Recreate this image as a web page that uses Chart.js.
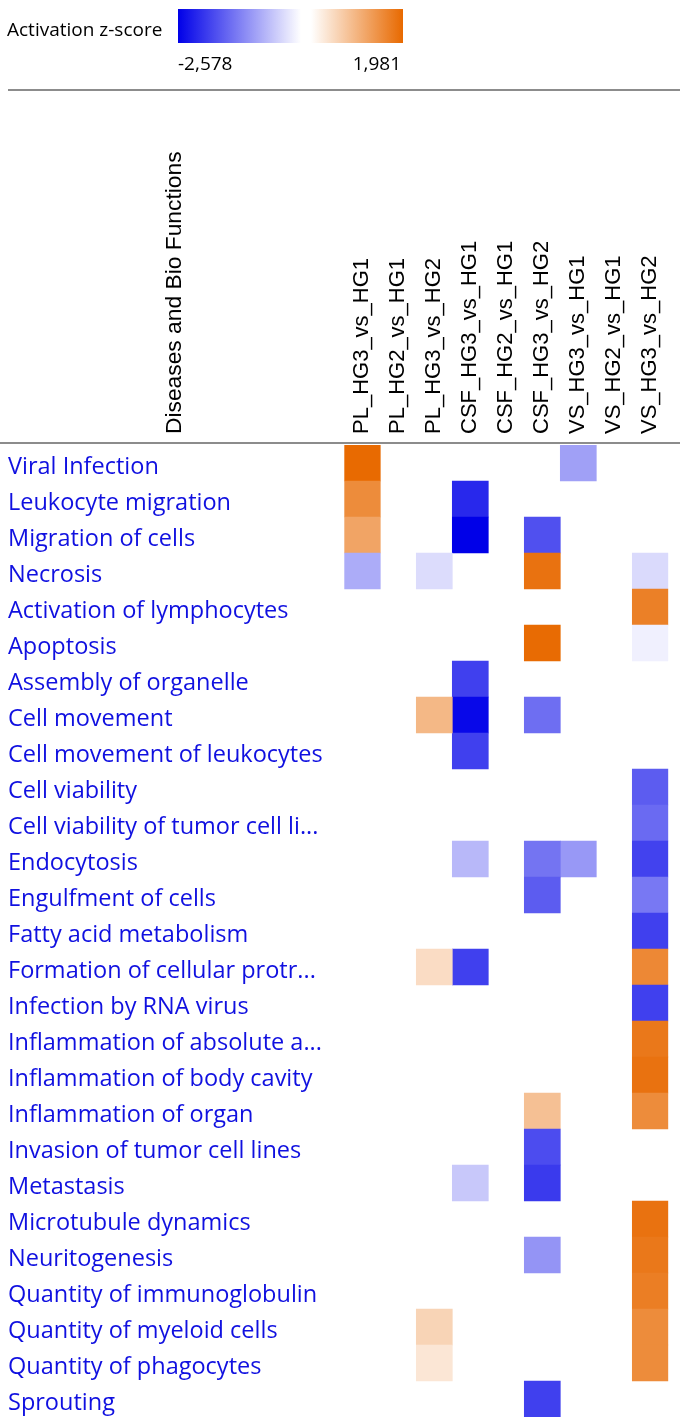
<!DOCTYPE html>
<html><head><meta charset="utf-8">
<script src="https://cdn.jsdelivr.net/npm/chart.js@4.4.1/dist/chart.umd.min.js"></script>
<style>
html,body{margin:0;padding:0;background:#fff;width:685px;height:1426px;overflow:hidden;}
#wrap{position:relative;width:685px;height:1426px;}
#c{position:absolute;left:0;top:0;}
.abs{position:absolute;white-space:nowrap;}
</style></head><body>
<div id="wrap">
<canvas id="c" width="685" height="1426"></canvas>
<div class="abs" style="left:7px;top:16px;font:19px 'Open Sans';color:#000;line-height:26px;">Activation z-score</div>
<div class="abs" style="left:178px;top:9px;width:123px;height:34px;background:linear-gradient(to right,rgb(0,0,232),#ffffff);"></div>
<div class="abs" style="left:311px;top:9px;width:92px;height:34px;background:linear-gradient(to right,#ffffff,rgb(232,105,0));"></div>
<div class="abs" id="minLbl" style="left:178px;top:50px;font:19px 'Open Sans';line-height:26px;"></div>
<div class="abs" id="maxLbl" style="right:284px;top:50px;font:19px 'Open Sans';line-height:26px;text-align:right;"></div>
<div class="abs" style="left:8px;top:89px;width:672px;height:2px;background:#8c8c8c;"></div>
<div class="abs" style="left:0px;top:442px;width:680px;height:2px;background:#8c8c8c;"></div>
<div class="abs" style="left:160px;top:434px;transform-origin:0 0;transform:rotate(-90deg);font:22.8px 'Liberation Sans',Arial;color:#000;line-height:26px;">Diseases and Bio Functions</div>
</div>
<script>
const zMin = -2.578;
const zMax = 1.981;
const zMinLabel = "-2,578";
const zMaxLabel = "1,981";

const columns = ["PL_HG3_vs_HG1","PL_HG2_vs_HG1","PL_HG3_vs_HG2","CSF_HG3_vs_HG1","CSF_HG2_vs_HG1","CSF_HG3_vs_HG2","VS_HG3_vs_HG1","VS_HG2_vs_HG1","VS_HG3_vs_HG2"];

const rows = ["Viral Infection","Leukocyte migration","Migration of cells","Necrosis","Activation of lymphocytes","Apoptosis","Assembly of organelle","Cell movement","Cell movement of leukocytes","Cell viability","Cell viability of tumor cell li...","Endocytosis","Engulfment of cells","Fatty acid metabolism","Formation of cellular protr...","Infection by RNA virus","Inflammation of absolute a...","Inflammation of body cavity","Inflammation of organ","Invasion of tumor cell lines","Metastasis","Microtubule dynamics","Neuritogenesis","Quantity of immunoglobulin","Quantity of myeloid cells","Quantity of phagocytes","Sprouting"];

const _ = null;
// one array per comparison (column), one value per row
const PL_HG3_vs_HG1  = [1.97,1.52,1.20,-0.84,_,_,_,_,_,_,_,_,_,_,_,_,_,_,_,_,_,_,_,_,_,_,_];
const PL_HG2_vs_HG1  = [_,_,_,_,_,_,_,_,_,_,_,_,_,_,_,_,_,_,_,_,_,_,_,_,_,_,_];
const PL_HG3_vs_HG2  = [_,_,_,-0.35,_,_,_,0.94,_,_,_,_,_,_,0.46,_,_,_,_,_,_,_,_,_,0.57,0.33,_];
const CSF_HG3_vs_HG1 = [_,-2.17,-2.578,_,_,_,-1.93,-2.50,-1.93,_,_,-0.72,_,_,-1.93,_,_,_,_,_,-0.56,_,_,_,_,_,_];
const CSF_HG2_vs_HG1 = [_,_,_,_,_,_,_,_,_,_,_,_,_,_,_,_,_,_,_,_,_,_,_,_,_,_,_];
const CSF_HG3_vs_HG2 = [_,_,-1.77,1.86,_,1.96,_,-1.47,_,_,_,-1.41,-1.65,_,_,_,_,_,0.83,-1.81,-1.99,_,-1.08,_,_,_,-1.93];
const VS_HG3_vs_HG1  = [-0.96,_,_,_,_,_,_,_,_,_,_,-1.04,_,_,_,_,_,_,_,_,_,_,_,_,_,_,_];
const VS_HG2_vs_HG1  = [_,_,_,_,_,_,_,_,_,_,_,_,_,_,_,_,_,_,_,_,_,_,_,_,_,_,_];
const VS_HG3_vs_HG2  = [_,_,_,-0.37,1.68,-0.15,_,_,_,-1.65,-1.51,-1.91,-1.36,-1.93,1.57,-1.93,1.78,1.86,1.52,_,_,1.86,1.78,1.70,1.52,1.52,_];

const series = [PL_HG3_vs_HG1,PL_HG2_vs_HG1,PL_HG3_vs_HG2,CSF_HG3_vs_HG1,CSF_HG2_vs_HG1,CSF_HG3_vs_HG2,VS_HG3_vs_HG1,VS_HG2_vs_HG1,VS_HG3_vs_HG2];

document.getElementById('minLbl').textContent = zMinLabel;
document.getElementById('maxLbl').textContent = zMaxLabel;

const BLUE = [0,0,232], ORANGE = [232,105,0];
function zColor(z){
  if (z == null) return 'rgba(0,0,0,0)';
  let end, t;
  if (z < 0) { end = BLUE; t = Math.min(1, z / zMin); }
  else { end = ORANGE; t = Math.min(1, z / zMax); }
  const c = end.map(v => Math.round(255 + (v - 255) * t));
  return `rgb(${c[0]},${c[1]},${c[2]})`;
}

const datasets = series.map((vals, ci) => ({
  label: columns[ci],
  data: vals.map(v => v == null ? null : [ci, ci + 1]),
  backgroundColor: vals.map(zColor),
  borderWidth: 0,
  barPercentage: 1,
  categoryPercentage: 1,
  grouped: false
}));

new Chart(document.getElementById('c'), {
  type: 'bar',
  data: { labels: rows, datasets },
  options: {
    indexAxis: 'y',
    responsive: false,
    animation: false,
    devicePixelRatio: 1,
    layout: { padding: { left: 8, right: 16.7, top: 100, bottom: 9 } },
    plugins: { legend: { display: false }, tooltip: { enabled: false } },
    scales: {
      x: {
        type: 'linear', position: 'top', min: 0, max: columns.length,
        grid: { display: false }, border: { display: false },
        afterBuildTicks: s => { s.ticks = columns.map((c, i) => ({ value: i + 0.5 })); },
        afterFit: s => { s.height = 345; s.paddingLeft = 0; s.paddingRight = 0; },
        ticks: {
          autoSkip: false, minRotation: 90, maxRotation: 90, padding: 3, labelOffset: 26,
          color: '#000', font: { family: "'Liberation Sans', Arial", size: 22 },
          callback: (v, i) => columns[i]
        }
      },
      y: {
        type: 'category', position: 'left',
        grid: { display: false }, border: { display: false },
        afterFit: s => { s.width = 336.3; s.paddingTop = 0; s.paddingBottom = 0; },
        ticks: {
          autoSkip: false, crossAlign: 'far', padding: 0, labelOffset: 4.5,
          color: '#1010e0', font: { family: "'Open Sans'", size: 23.5 }
        }
      }
    }
  }
});
</script>
</body></html>
